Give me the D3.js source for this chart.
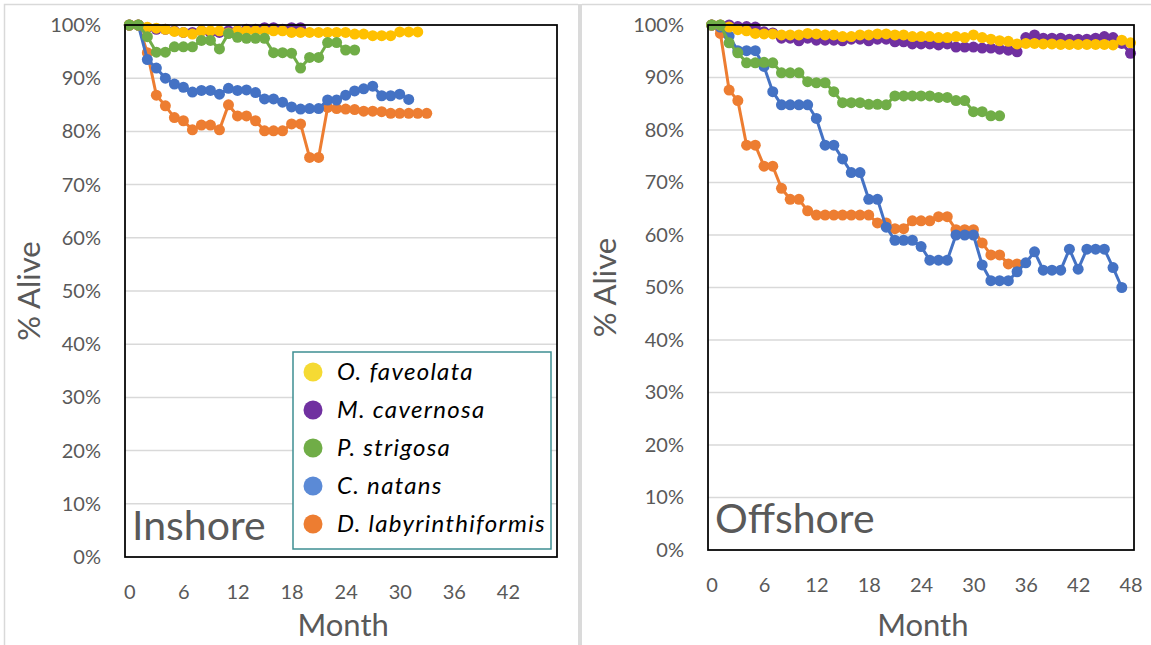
<!DOCTYPE html>
<html>
<head>
<meta charset="utf-8">
<script src="https://cdn.jsdelivr.net/npm/d3@7"></script>
<style>
  html, body { margin: 0; padding: 0; background: #fff; }
  svg { display: block; font-family: Lato, "Open Sans", sans-serif; }
</style>
</head>
<body>
<svg id="chart" width="1151" height="645"></svg>
<script>
// Species shown in both panels (legend order)
const species = ["O. faveolata", "M. cavernosa", "P. strigosa", "C. natans", "D. labyrinthiformis"];
const lineColors = ["#FFC000", "#7030A0", "#70AD47", "#4472C4", "#ED7D31"];
const legendColors = ["#F5DA33", "#7030A0", "#70AD47", "#5B8AD6", "#ED7D31"];

// Percent alive per month (index = month), inshore site
const inshoreFaveolata = [100,100,99.6,99.4,99.2,98.8,98.6,98.3,98.9,98.9,98.9,98.5,98.9,98.9,98.9,98.9,98.9,98.9,98.6,98.6,98.6,98.6,98.6,98.6,98.6,98.3,98.3,98.0,98.0,98.0,98.7,98.7,98.7];
const inshoreCavernosa = [100,100,99.5,99.2,99.2,98.9,98.6,98.6,98.9,98.6,98.6,98.9,98.9,99.2,99.2,99.5,99.5,99.2,99.5,99.5];
const inshoreStrigosa = [100,100,97.8,94.9,94.9,95.9,95.9,95.9,97.1,97.1,95.5,98.4,97.7,97.5,97.5,97.5,94.8,94.8,94.7,91.9,93.9,93.9,96.7,96.7,95.3,95.3];
const inshoreNatans = [100,100,93.5,91.9,90.0,88.9,88.3,87.4,87.7,87.7,87.0,88.1,87.7,87.8,87.3,86.1,86.1,85.5,84.6,84.2,84.3,84.3,85.9,85.9,86.8,87.6,88.0,88.5,86.7,86.7,87.0,86.0];
const inshoreLabyrinth = [100,100,94.8,86.8,84.8,82.6,82.0,80.3,81.2,81.2,80.3,85.0,82.9,82.9,82.0,80.1,80.1,80.1,81.4,81.4,75.1,75.1,84.5,84.3,84.2,84.1,83.8,83.8,83.7,83.4,83.4,83.4,83.4,83.4];

// Percent alive per month (index = month), offshore site
const offshoreFaveolata = [100,100,99.6,99.1,98.9,98.4,98.3,98.3,98.1,98.1,98.1,98.4,98.3,98.1,98.1,97.8,97.8,98.1,98.1,98.3,98.3,98.1,98.1,97.8,97.8,97.8,97.6,97.6,97.8,97.6,98.1,97.6,97.3,97.0,96.9,96.4,96.5,96.5,96.4,96.4,96.3,96.3,96.3,96.3,96.3,96.3,96.2,97.1,96.6];
const offshoreCavernosa = [100,100,100,99.7,99.7,99.6,98.7,98.5,97.5,97.5,97.0,97.5,97.1,97.1,97.1,97.0,97.3,97.3,97.0,97.3,97.3,96.8,96.8,96.4,96.4,96.4,96.2,96.4,95.8,95.8,95.8,95.6,95.6,95.4,95.2,94.9,97.6,98.1,97.5,97.5,97.5,97.3,97.3,97.3,97.5,97.8,97.6,96.5,94.6];
const offshoreStrigosa = [100,100,96.6,94.7,92.8,92.8,92.9,92.8,90.9,90.9,90.9,89.2,89.0,89.0,87.3,85.2,85.2,85.2,84.9,84.9,84.8,86.5,86.5,86.5,86.5,86.5,86.2,86.2,85.6,85.6,83.5,83.5,82.7,82.7];
const offshoreNatans = [100,99.6,97.9,95.1,95.1,95.1,92.1,87.3,84.8,84.8,84.8,84.8,82.2,77.1,77.1,74.5,71.9,71.9,66.8,66.8,61.5,59.0,59.0,59.0,57.8,55.2,55.2,55.2,60.0,60.0,60.0,54.3,51.3,51.3,51.3,53.0,54.7,56.8,53.3,53.3,53.3,57.3,53.5,57.3,57.3,57.3,53.8,50.0];
const offshoreLabyrinth = [100,98.4,87.6,85.6,77.1,77.1,73.1,73.1,68.9,66.8,66.8,64.6,63.8,63.8,63.8,63.8,63.8,63.8,63.8,62.3,62.3,61.2,61.2,62.7,62.7,62.7,63.5,63.5,61.0,61.0,61.0,58.5,56.2,56.2,54.5,54.5];

const yTicks = [0, 10, 20, 30, 40, 50, 60, 70, 80, 90, 100];
const inshoreMonthTicks = [0, 6, 12, 18, 24, 30, 36, 42];
const offshoreMonthTicks = [0, 6, 12, 18, 24, 30, 36, 42, 48];

// Series stacking order (later drawn on top)
const drawOrder = [4, 3, 1, 0, 2];

const svg = d3.select("#chart");
const textGrey = "#595959";

// Chart frames
svg.append("path").attr("d", "M4.5,660 V4.5 H578").attr("fill", "none").attr("stroke", "#D9D9D9").attr("stroke-width", 1.5);
svg.append("rect").attr("x", 578).attr("y", 4).attr("width", 4).attr("height", 660).attr("fill", "#DADADA");
svg.append("path").attr("d", "M582,4.5 H1151").attr("fill", "none").attr("stroke", "#D9D9D9").attr("stroke-width", 1.5);

function drawPanel(cfg) {
  const x = d3.scaleLinear().domain(cfg.xDomain).range([cfg.left, cfg.right]);
  const y = d3.scaleLinear().domain([0, 100]).range([cfg.bottom, cfg.top]);
  const g = svg.append("g");

  // horizontal gridlines
  g.append("g").selectAll("line")
    .data(yTicks.filter(t => t > 0 && t < 100))
    .join("line")
    .attr("x1", cfg.left).attr("x2", cfg.right)
    .attr("y1", d => y(d)).attr("y2", d => y(d))
    .attr("stroke", "#D9D9D9").attr("stroke-width", 1.5);

  // y axis labels
  const yAxis = d3.axisLeft(y).tickValues(yTicks).tickSize(0).tickPadding(0).tickFormat(d => d + "%");
  const ya = g.append("g").attr("transform", `translate(${cfg.yLabelX},0)`).call(yAxis);
  ya.select(".domain").remove();
  ya.selectAll("text").attr("fill", textGrey).style("font-size", "20px").style("font-family", "Lato, sans-serif");

  // x axis labels
  const xAxis = d3.axisBottom(x).tickValues(cfg.monthTicks).tickSize(0).tickPadding(0);
  const xa = g.append("g").attr("transform", `translate(0,${cfg.bottom + 28})`).call(xAxis);
  xa.select(".domain").remove();
  xa.selectAll("text").attr("fill", textGrey).style("font-size", "20px").style("font-family", "Lato, sans-serif");

  // axis titles
  g.append("text")
    .attr("x", (x(0) + x(cfg.xDomain[1])) / 2)
    .attr("y", 636)
    .attr("text-anchor", "middle")
    .attr("fill", textGrey)
    .style("font-size", "31px")
    .text("Month");
  g.append("text")
    .attr("transform", `translate(${cfg.alivX},${(cfg.top + cfg.bottom) / 2}) rotate(-90)`)
    .attr("text-anchor", "middle")
    .attr("fill", textGrey)
    .style("font-size", "31px")
    .text("% Alive");

  // series lines and markers
  const line = d3.line().x((d, i) => x(i)).y(d => y(d));
  drawOrder.forEach(k => {
    const vals = cfg.series[k];
    g.append("path").datum(vals)
      .attr("d", line)
      .attr("fill", "none")
      .attr("stroke", lineColors[k])
      .attr("stroke-width", 3)
      .attr("stroke-linejoin", "round");
    g.append("g").selectAll("circle")
      .data(vals)
      .join("circle")
      .attr("cx", (d, i) => x(i))
      .attr("cy", d => y(d))
      .attr("r", 5.5)
      .attr("fill", lineColors[k]);
  });

  // plot border
  g.append("rect")
    .attr("x", cfg.left).attr("y", cfg.top)
    .attr("width", cfg.right - cfg.left).attr("height", cfg.bottom - cfg.top)
    .attr("fill", "none").attr("stroke", "#000").attr("stroke-width", 1.75);

  // site label
  g.append("text")
    .attr("x", cfg.left + 7).attr("y", cfg.siteY)
    .attr("fill", textGrey)
    .style("font-size", "41px")
    .text(cfg.site);

  return g;
}

const inshore = drawPanel({
  left: 125, right: 557, top: 25, bottom: 557,
  xDomain: [-0.48, 47.45],
  monthTicks: inshoreMonthTicks,
  yLabelX: 101, alivX: 40,
  siteY: 540, site: "Inshore",
  series: [inshoreFaveolata, inshoreCavernosa, inshoreStrigosa, inshoreNatans, inshoreLabyrinth]
});

drawPanel({
  left: 708, right: 1134, top: 25, bottom: 550,
  xDomain: [-0.42, 48.4],
  monthTicks: offshoreMonthTicks,
  yLabelX: 684, alivX: 616,
  siteY: 533, site: "Offshore",
  series: [offshoreFaveolata, offshoreCavernosa, offshoreStrigosa, offshoreNatans, offshoreLabyrinth]
});

// legend (inshore panel)
const lg = inshore.append("g").attr("transform", "translate(293,352)");
lg.append("rect").attr("width", 258).attr("height", 197)
  .attr("fill", "#fff").attr("stroke", "#3E8E92").attr("stroke-width", 1.5);
species.forEach((name, i) => {
  const row = lg.append("g").attr("transform", `translate(0,${20 + i * 38})`);
  row.append("circle").attr("cx", 20).attr("cy", 0).attr("r", 9.5).attr("fill", legendColors[i]);
  row.append("text").attr("x", 44).attr("y", 0).attr("dy", "0.35em")
    .attr("fill", "#000")
    .style("font-size", "24px").style("font-style", "italic")
    .style("letter-spacing", "1.3px")
    .text(name);
});
</script>
</body>
</html>
